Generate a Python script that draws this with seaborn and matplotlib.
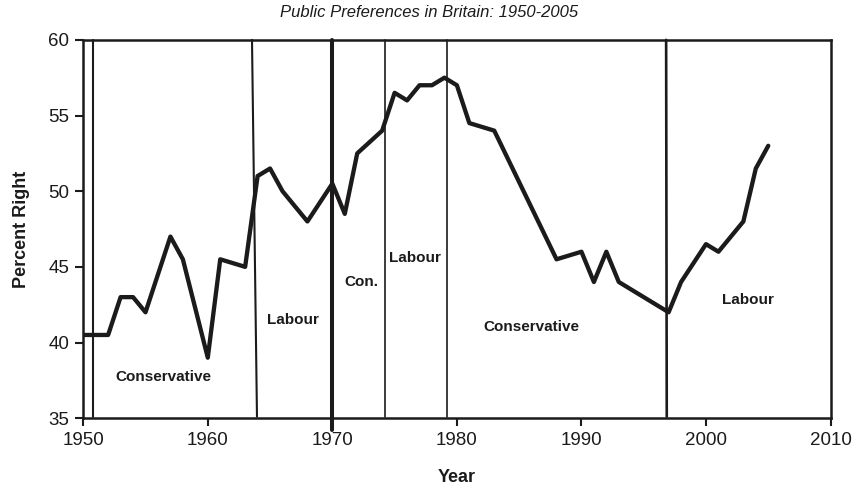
import numpy as np
import pandas as pd
import matplotlib
matplotlib.use("Agg")
import matplotlib.pyplot as plt
import seaborn as sns

# Values
years = [1950, 1952, 1953, 1954, 1955, 1957, 1958, 1960, 1961, 1963, 1964,
         1965, 1966, 1968, 1970, 1971, 1972, 1974, 1975, 1976, 1977, 1978,
         1979, 1980, 1981, 1983, 1988, 1990, 1991, 1992, 1993, 1997, 1998,
         2000, 2001, 2003, 2004, 2005]
pct_right = [40.5, 40.5, 43.0, 43.0, 42.0, 47.0, 45.5, 39.0, 45.5, 45.0, 51.0,
             51.5, 50.0, 48.0, 50.5, 48.5, 52.5, 54.0, 56.5, 56.0, 57.0, 57.0,
             57.5, 57.0, 54.5, 54.0, 45.5, 46.0, 44.0, 46.0, 44.0, 42.0, 44.0,
             46.5, 46.0, 48.0, 51.5, 53.0]

# Changes of government (top year, bottom year, bottom value, width)
gov_top = [1950.75, 1963.55, 1970.0, 1974.2, 1979.2, 1996.8]
gov_bottom = [1950.75, 1963.95, 1970.0, 1974.2, 1979.2, 1996.85]
gov_low = [35.1, 35.1, 34.2, 35.1, 35.1, 35.1]
gov_width = [1.5, 1.5, 2.9, 1.2, 1.2, 1.9]

party_names = ["Conservative", "Labour", "Con.", "Labour", "Conservative", "Labour"]
party_x = [1956.4, 1966.8, 1972.3, 1976.6, 1986.0, 2003.4]
party_y = [37.7, 41.5, 44.0, 45.6, 41.0, 42.8]

df = pd.DataFrame({"Year": years, "Percent Right": pct_right})

sns.set_style("white")
plt.rcParams["font.family"] = ["Liberation Sans", "DejaVu Sans"]

fig = plt.figure(figsize=(8.58, 4.92), dpi=100)
ax = fig.add_axes([0.097, 0.150, 0.871, 0.769])

ink = "#1c1a1b"
for xt, xb, lo, w in zip(gov_top, gov_bottom, gov_low, gov_width):
    ax.plot([xt, xb], [60, lo], color=ink, lw=w, clip_on=False, zorder=2)

sns.lineplot(data=df, x="Year", y="Percent Right", color=ink, lw=3.1, ax=ax,
             zorder=3)

for name, x, y in zip(party_names, party_x, party_y):
    ax.text(x, y, name, ha="center", va="center", fontsize=11,
            fontweight="bold", color=ink)

ax.set_xlim(1950, 2010)
ax.set_ylim(35, 60)
ax.set_xticks(range(1950, 2011, 10))
ax.set_yticks(range(35, 61, 5))
ax.tick_params(axis="both", direction="out", length=6, width=1.5,
               labelsize=13.5, color=ink, labelcolor=ink, pad=4)
ax.tick_params(axis="x", bottom=True, top=False)
ax.tick_params(axis="y", left=True, right=False)
for sp in ax.spines.values():
    sp.set_visible(True)
    sp.set_color(ink)
    sp.set_linewidth(1.8)

ax.set_xlabel("Year", fontsize=13, fontweight="bold", color=ink, labelpad=14)
ax.set_ylabel("Percent Right", fontsize=13, fontweight="bold", color=ink,
              labelpad=13)
fig.text(0.5, 0.99, "Public Preferences in Britain: 1950-2005", ha="center",
         va="top", fontsize=12, fontstyle="italic", color=ink)

fig.savefig("out.png", dpi=100)
